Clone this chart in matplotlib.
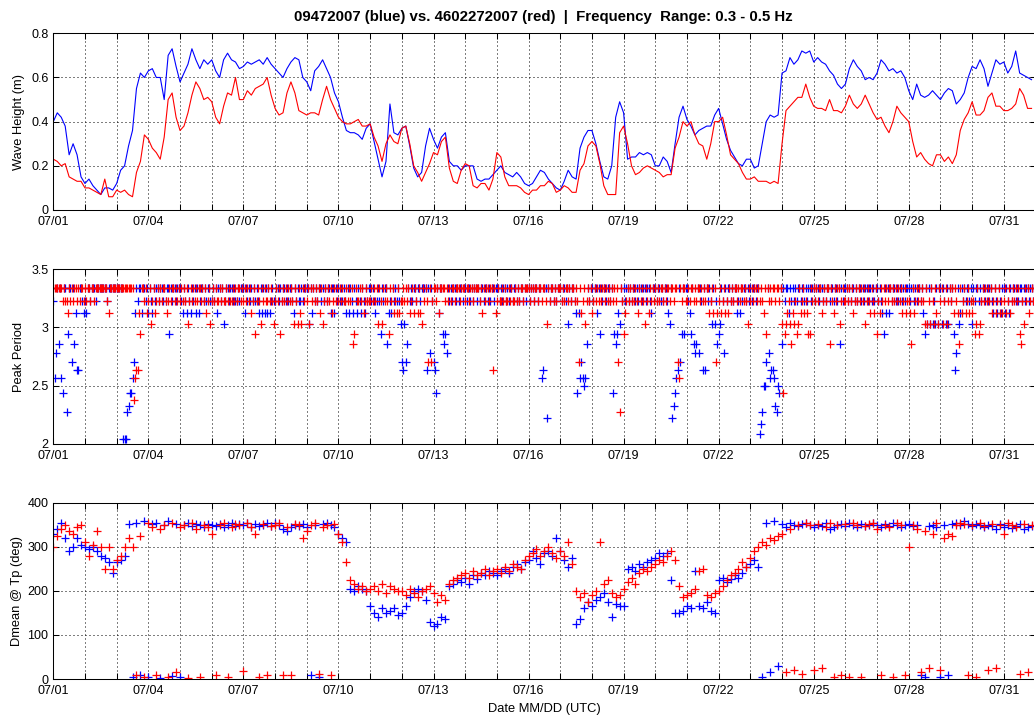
import numpy as np
import pandas as pd
import matplotlib
matplotlib.use("Agg")
import matplotlib.pyplot as plt
import matplotlib.dates as mdates

plt.rcParams['font.family'] = ['Liberation Sans', 'DejaVu Sans']

start = pd.Timestamp('2007-07-01')

# wave height (m), 3-hourly, one row per day starting 07/01
hs_blue = [
    [0.40, 0.44, 0.42, 0.38, 0.25, 0.30, 0.25, 0.15],
    [0.12, 0.14, 0.11, 0.09, 0.07, 0.10, 0.10, 0.09],
    [0.12, 0.18, 0.20, 0.29, 0.36, 0.55, 0.62, 0.60],
    [0.63, 0.64, 0.60, 0.60, 0.50, 0.70, 0.73, 0.65],
    [0.58, 0.62, 0.66, 0.73, 0.68, 0.64, 0.68, 0.66],
    [0.68, 0.63, 0.60, 0.68, 0.71, 0.68, 0.67, 0.64],
    [0.65, 0.67, 0.66, 0.67, 0.68, 0.66, 0.69, 0.66],
    [0.64, 0.62, 0.60, 0.64, 0.67, 0.69, 0.68, 0.60],
    [0.58, 0.54, 0.63, 0.65, 0.68, 0.64, 0.60, 0.53],
    [0.49, 0.42, 0.36, 0.35, 0.35, 0.34, 0.32, 0.37],
    [0.39, 0.31, 0.23, 0.15, 0.22, 0.48, 0.35, 0.34],
    [0.37, 0.38, 0.29, 0.19, 0.15, 0.17, 0.29, 0.37],
    [0.32, 0.28, 0.33, 0.35, 0.22, 0.20, 0.20, 0.18],
    [0.20, 0.20, 0.20, 0.14, 0.13, 0.14, 0.14, 0.16],
    [0.18, 0.20, 0.17, 0.16, 0.15, 0.17, 0.15, 0.12],
    [0.11, 0.12, 0.15, 0.18, 0.17, 0.14, 0.12, 0.10],
    [0.09, 0.13, 0.18, 0.15, 0.14, 0.28, 0.33, 0.36],
    [0.36, 0.30, 0.22, 0.15, 0.14, 0.20, 0.42, 0.49],
    [0.44, 0.23, 0.24, 0.24, 0.26, 0.25, 0.26, 0.25],
    [0.20, 0.20, 0.24, 0.22, 0.17, 0.30, 0.42, 0.47],
    [0.41, 0.38, 0.34, 0.36, 0.37, 0.38, 0.38, 0.43],
    [0.46, 0.39, 0.32, 0.27, 0.24, 0.21, 0.20, 0.23],
    [0.23, 0.19, 0.20, 0.30, 0.40, 0.43, 0.42, 0.43],
    [0.62, 0.63, 0.69, 0.66, 0.68, 0.72, 0.71, 0.72],
    [0.67, 0.69, 0.67, 0.66, 0.63, 0.61, 0.57, 0.55],
    [0.57, 0.64, 0.68, 0.65, 0.63, 0.59, 0.60, 0.59],
    [0.62, 0.68, 0.66, 0.63, 0.64, 0.62, 0.63, 0.60],
    [0.54, 0.50, 0.57, 0.52, 0.51, 0.52, 0.54, 0.52],
    [0.50, 0.53, 0.55, 0.54, 0.48, 0.50, 0.53, 0.60],
    [0.65, 0.64, 0.68, 0.64, 0.56, 0.62, 0.68, 0.66],
    [0.67, 0.62, 0.65, 0.72, 0.62, 0.61, 0.60, 0.59],
]
hs_red = [
    [0.23, 0.22, 0.20, 0.21, 0.15, 0.14, 0.13, 0.13],
    [0.10, 0.10, 0.09, 0.08, 0.07, 0.14, 0.06, 0.06],
    [0.09, 0.08, 0.09, 0.07, 0.06, 0.17, 0.22, 0.34],
    [0.32, 0.28, 0.26, 0.23, 0.33, 0.50, 0.53, 0.42],
    [0.36, 0.38, 0.44, 0.52, 0.58, 0.55, 0.50, 0.51],
    [0.49, 0.42, 0.39, 0.47, 0.53, 0.52, 0.60, 0.50],
    [0.50, 0.54, 0.52, 0.55, 0.56, 0.57, 0.60, 0.52],
    [0.46, 0.43, 0.44, 0.53, 0.58, 0.53, 0.45, 0.44],
    [0.43, 0.44, 0.44, 0.43, 0.50, 0.56, 0.50, 0.46],
    [0.42, 0.40, 0.39, 0.39, 0.40, 0.41, 0.38, 0.38],
    [0.39, 0.33, 0.29, 0.22, 0.30, 0.34, 0.31, 0.30],
    [0.37, 0.38, 0.30, 0.20, 0.17, 0.13, 0.17, 0.21],
    [0.26, 0.25, 0.31, 0.33, 0.19, 0.13, 0.12, 0.18],
    [0.21, 0.20, 0.11, 0.10, 0.12, 0.12, 0.09, 0.14],
    [0.26, 0.24, 0.15, 0.11, 0.11, 0.11, 0.10, 0.08],
    [0.07, 0.09, 0.09, 0.11, 0.11, 0.13, 0.12, 0.08],
    [0.09, 0.11, 0.10, 0.08, 0.08, 0.18, 0.21, 0.29],
    [0.31, 0.29, 0.21, 0.11, 0.07, 0.07, 0.07, 0.35],
    [0.38, 0.30, 0.20, 0.16, 0.17, 0.19, 0.20, 0.19],
    [0.18, 0.17, 0.15, 0.16, 0.16, 0.28, 0.33, 0.40],
    [0.38, 0.40, 0.34, 0.30, 0.29, 0.23, 0.30, 0.40],
    [0.40, 0.42, 0.34, 0.25, 0.23, 0.21, 0.17, 0.14],
    [0.14, 0.15, 0.13, 0.13, 0.13, 0.12, 0.13, 0.12],
    [0.30, 0.45, 0.47, 0.49, 0.51, 0.51, 0.57, 0.51],
    [0.47, 0.46, 0.46, 0.45, 0.50, 0.45, 0.45, 0.44],
    [0.47, 0.52, 0.48, 0.46, 0.48, 0.52, 0.48, 0.44],
    [0.41, 0.42, 0.38, 0.35, 0.40, 0.47, 0.44, 0.42],
    [0.40, 0.31, 0.24, 0.26, 0.23, 0.21, 0.20, 0.25],
    [0.25, 0.22, 0.24, 0.21, 0.25, 0.36, 0.41, 0.44],
    [0.49, 0.43, 0.43, 0.45, 0.51, 0.53, 0.47, 0.47],
    [0.45, 0.45, 0.46, 0.48, 0.55, 0.52, 0.46, 0.46],
]

# peak period bins (s) and hourly bin codes, one string per day
period_levels = [3.333, 3.226, 3.125, 3.030, 2.941, 2.857, 2.778, 2.703, 2.632, 2.564,
                 2.500, 2.439, 2.381, 2.326, 2.273, 2.222, 2.174, 2.128, 2.083, 2.041]
level_codes = "0123456789abcdefghij"
tp_blue = [
    "1960509b00e4007052880012", "120010001000000001000000", "00000jjjedbb972010020010",
    "201201001001010040100100", "012012012010202100101001", "101020010310010010110100",
    "020101010101202020202101", "100101001010012010110100", "003020101001010100200201",
    "010101202012012012012010", "010121014010052120101013", "783750101001001000080601",
    "78b020045460101001010010", "010010100101001001010010", "001010010100100101001010",
    "01001001009800f010010100", "0100103010012b2979a95010", "0100204010010010b4542301",
    "010010100101001001001200", "0100101001230fdb98074040", "012405650601808010130315",
    "430160100101002120100101", "0100100igeaa7069889deab0", "501002010101001001010010",
    "010010010100100100105010", "001010010100101001001010", "010124020201001010010100",
    "010010100102403030313030", "030130301048603201010010", "301001010010100120120120",
    "020120100101001010010010",
]
tp_red = [
    "000000010112010100101001", "010010010000000001200000", "0000000000000c9882400102",
    "103102101010012101001010", "101010310101010010102103", "101011010110101101010010",
    "101010210410130101101013", "101041010101013013023010", "103010101020310101021010",
    "101011010105401101021011", "101010301301014010212021", "101010210201202301017071",
    "001020000101010010001000", "100100100001020100100802", "101101011010110101001000",
    "010010010010013010010100", "010100101001017021031010", "210101010010101010107e01",
    "421010101012010130120101", "010100101001001007901001", "101001010010101002102072",
    "102102120101001010010130", "101001010120401010010010", "3b4321352314302102124401",
    "010100210100501201003101", "101010210101010310120120", "412010101001010101021021",
    "125021010101303130130230", "103103101020125021021021", "214304310101010210210212",
    "102102101010451301021010",
]

# mean direction at peak (deg), 3-hourly, one row per day
dm_blue = [
    [330, 340, 355, 320, 290, 300, 320, 305],
    [300, 295, 300, 290, 280, 275, 265, 240],
    [265, 270, 280, 352, 5, 355, 8, 358],
    [5, 352, 355, 3, 350, 358, 6, 352],
    [4, 350, 355, 348, 352, 350, 345, 352],
    [350, 348, 352, 345, 350, 355, 348, 352],
    [350, 355, 345, 352, 348, 350, 353, 348],
    [355, 350, 340, 335, 345, 350, 348, 352],
    [345, 8, 350, 5, 352, 355, 350, 345],
    [330, 320, 310, 205, 200, 210, 205, 200],
    [165, 150, 140, 160, 150, 155, 160, 145],
    [150, 165, 185, 200, 205, 200, 180, 130],
    [120, 125, 140, 135, 210, 215, 225, 220],
    [230, 215, 235, 228, 240, 235, 245, 240],
    [235, 245, 250, 240, 255, 260, 250, 265],
    [270, 290, 275, 260, 285, 290, 280, 320],
    [290, 270, 255, 275, 125, 135, 160, 175],
    [165, 180, 185, 195, 175, 140, 170, 165],
    [165, 250, 255, 245, 260, 255, 265, 270],
    [275, 285, 280, 285, 225, 150, 150, 155],
    [165, 160, 245, 165, 160, 175, 155, 150],
    [225, 230, 220, 228, 235, 230, 240, 255],
    [260, 270, 255, 5, 355, 15, 358, 30],
    [352, 345, 355, 350, 348, 352, 355, 350],
    [345, 350, 348, 355, 340, 345, 350, 352],
    [348, 355, 350, 345, 352, 348, 350, 355],
    [350, 345, 352, 348, 355, 350, 345, 350],
    [352, 348, 350, 10, 5, 348, 350, 345],
    [5, 350, 8, 352, 355, 350, 358, 352],
    [348, 352, 350, 345, 350, 348, 340, 352],
    [345, 350, 342, 348, 352, 340, 345, 348],
]
dm_red = [
    [300, 325, 340, 350, 335, 330, 345, 350],
    [310, 280, 305, 335, 300, 250, 300, 250],
    [270, 280, 300, 320, 300, 8, 325, 5],
    [355, 345, 10, 340, 350, 5, 355, 15],
    [345, 350, 3, 355, 340, 5, 350, 345],
    [330, 8, 350, 355, 5, 345, 352, 350],
    [18, 355, 345, 330, 5, 352, 10, 348],
    [350, 355, 8, 345, 10, 352, 350, 320],
    [335, 350, 355, 12, 345, 350, 8, 352],
    [330, 310, 265, 225, 215, 205, 210, 200],
    [205, 210, 200, 215, 195, 210, 205, 200],
    [200, 190, 205, 195, 185, 200, 205, 210],
    [195, 175, 190, 180, 215, 225, 230, 235],
    [240, 230, 245, 235, 240, 250, 235, 245],
    [250, 240, 255, 245, 260, 255, 250, 270],
    [280, 285, 295, 280, 290, 300, 285, 275],
    [290, 280, 310, 260, 200, 185, 195, 175],
    [190, 200, 310, 215, 225, 195, 185, 190],
    [205, 220, 230, 215, 240, 250, 245, 255],
    [260, 270, 265, 280, 290, 270, 210, 185],
    [190, 195, 205, 245, 250, 190, 185, 195],
    [200, 210, 225, 235, 240, 250, 265, 255],
    [275, 290, 300, 310, 305, 320, 315, 325],
    [330, 15, 340, 20, 350, 12, 355, 350],
    [20, 352, 25, 345, 355, 5, 350, 8],
    [352, 5, 355, 350, 5, 348, 352, 355],
    [340, 8, 350, 345, 5, 355, 350, 10],
    [300, 350, 340, 15, 335, 25, 330, 355],
    [20, 320, 330, 325, 350, 355, 352, 8],
    [350, 5, 355, 348, 20, 352, 25, 350],
    [330, 355, 350, 345, 12, 352, 15, 350],
]

t3 = start + pd.to_timedelta(np.arange(len(hs_blue) * 8) * 3, unit='h')
t1 = start + pd.to_timedelta(np.arange(len(tp_blue) * 24), unit='h')
label_days = pd.date_range('2007-07-01', '2007-07-31', freq='3D')


def decode(days):
    return [period_levels[level_codes.index(c)] for day in days for c in day]


BLUE = '#0000ff'
RED = '#ff0000'
W, H = 1034, 719
fig = plt.figure(figsize=(W / 100, H / 100), dpi=100)


def make_axes(top, bottom):
    return fig.add_axes([53.3 / W, 1 - bottom / H, (1035.5 - 53.3) / W, (bottom - top) / H])


def style(ax, ylim, yticks, yticklabels, ylabel, labx):
    ax.set_xlim(start, start + pd.Timedelta(days=31))
    ax.set_ylim(*ylim)
    ax.set_yticks(yticks)
    ax.set_yticklabels(yticklabels)
    ax.set_xticks(label_days)
    ax.xaxis.set_minor_locator(mdates.DayLocator())
    ax.xaxis.set_major_formatter(mdates.DateFormatter('%m/%d'))
    ax.tick_params(which='both', direction='in', length=4.3, width=0.75,
                   top=True, right=True, labelsize=9, colors='k')
    ax.tick_params(axis='x', pad=4.5)
    ax.tick_params(axis='y', pad=3.5)
    dot = (0, (1, 3))
    ax.grid(which='both', axis='x', color='k', lw=0.72, ls=dot)
    ax.grid(which='major', axis='y', color='k', lw=0.72, ls=dot)
    ax.set_axisbelow(True)
    for s in ax.spines.values():
        s.set_linewidth(0.75)
    ax.set_ylabel(ylabel, fontsize=9.3)
    ax.yaxis.set_label_coords(labx, 0.5)


ax1 = make_axes(33.3, 210)
ax1.plot(t3, np.ravel(hs_blue), color=BLUE, lw=0.8)
ax1.plot(t3, np.ravel(hs_red), color=RED, lw=0.8)
style(ax1, (0, 0.8), [0, 0.2, 0.4, 0.6, 0.8], ['0', '0.2', '0.4', '0.6', '0.8'],
      'Wave Height (m)', -0.029)

ax2 = make_axes(269, 444)
mk = dict(ls='none', marker='+', ms=6, mew=0.9, antialiased=False)
ax2.plot(t1, decode(tp_blue), color=BLUE, **mk)
ax2.plot(t1, decode(tp_red), color=RED, **mk)
style(ax2, (2, 3.5), [2, 2.5, 3, 3.5], ['2', '2.5', '3', '3.5'], 'Peak Period', -0.029)

ax3 = make_axes(502.7, 679)
ax3.plot(t3, np.ravel(dm_blue), color=BLUE, **mk)
ax3.plot(t3, np.ravel(dm_red), color=RED, **mk)
style(ax3, (0, 400), [0, 100, 200, 300, 400], ['0', '100', '200', '300', '400'],
      'Dmean @ Tp (deg)', -0.031)
ax3.set_xlabel('Date MM/DD (UTC)', fontsize=9.3, va='top')
ax3.xaxis.set_label_coords(0.5, -0.136)

fig.text((53.3 + 1034) / 2 / W, 1 - 17 / H,
         '09472007 (blue) vs. 4602272007 (red)  |  Frequency  Range: 0.3 - 0.5 Hz',
         ha='center', va='center', fontsize=10.8, fontweight='bold')

fig.savefig('out.png', dpi=100)
